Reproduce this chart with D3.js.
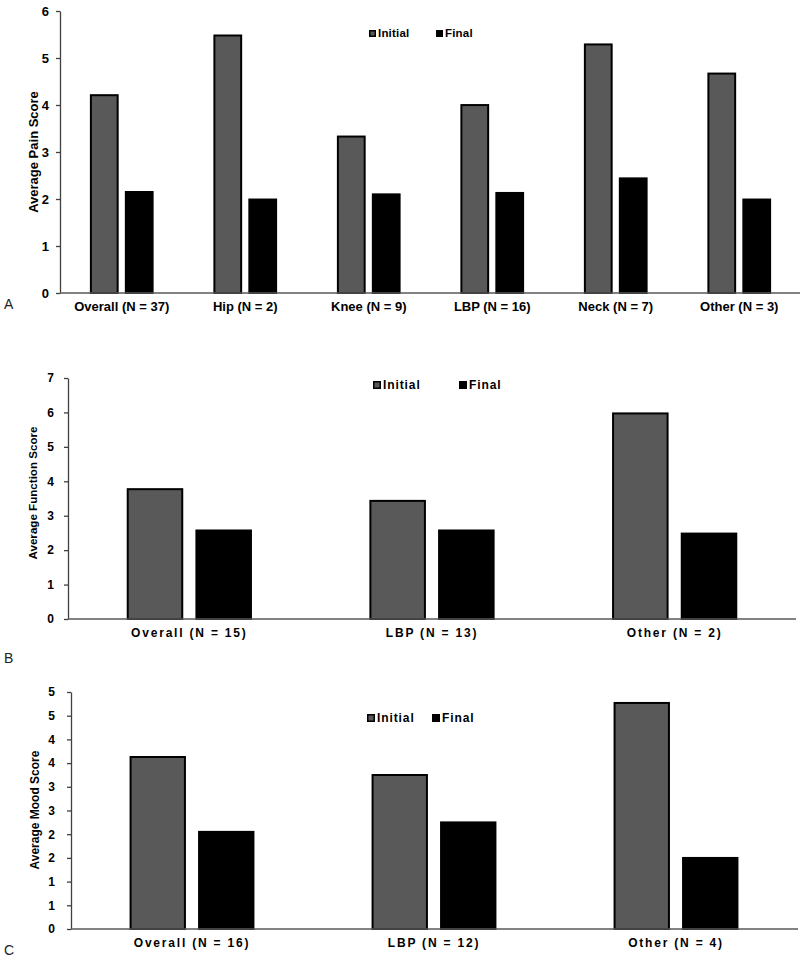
<!DOCTYPE html>
<html>
<head>
<meta charset="utf-8">
<script src="https://cdn.jsdelivr.net/npm/d3@7"></script>
<style>
  html, body { margin: 0; padding: 0; background: #fff; }
  svg { display: block; font-family: "Liberation Sans", Arial, sans-serif; }
</style>
</head>
<body>
<svg id="chart" width="800" height="969"></svg>
<script>
// ---------- DATA ----------
const series = ["Initial", "Final"];
const seriesColors = ["#595959", "#000000"];

const painCategories = ["Overall (N = 37)", "Hip (N = 2)", "Knee (N = 9)", "LBP (N = 16)", "Neck (N = 7)", "Other (N = 3)"];
const painInitial = [4.23, 5.50, 3.35, 4.02, 5.31, 4.69];
const painFinal   = [2.17, 2.01, 2.12, 2.15, 2.46, 2.01];
const painTicks = [0, 1, 2, 3, 4, 5, 6];
const painTickLabels = ["0", "1", "2", "3", "4", "5", "6"];

const funcCategories = ["Overall (N = 15)", "LBP (N = 13)", "Other (N = 2)"];
const funcInitial = [3.80, 3.46, 6.00];
const funcFinal   = [2.60, 2.60, 2.51];
const funcTicks = [0, 1, 2, 3, 4, 5, 6, 7];
const funcTickLabels = ["0", "1", "2", "3", "4", "5", "6", "7"];

const moodCategories = ["Overall (N = 16)", "LBP (N = 12)", "Other (N = 4)"];
const moodInitial = [3.65, 3.27, 4.79];
const moodFinal   = [2.07, 2.27, 1.52];
const moodTicks = [0, 0.5, 1, 1.5, 2, 2.5, 3, 3.5, 4, 4.5, 5];
const moodTickLabels = ["0", "1", "1", "2", "2", "3", "3", "4", "4", "5", "5"];

// ---------- DRAW ----------
const svg = d3.select("#chart");

function drawPanel(p) {
  const g = svg.append("g");
  const x = d3.scaleBand().domain(p.categories).range([p.left, p.right]).padding(0);
  const bw = x.bandwidth();
  const xs = d3.scaleBand().domain(series)
    .range([bw * 0.242, bw * 0.758]).paddingInner(0.177).paddingOuter(0);
  const y = d3.scaleLinear().domain([0, p.max]).range([p.bottom, p.top]);

  const rows = p.categories.map((c, i) => ({ c, vals: [p.initial[i], p.final[i]] }));

  // bars
  const grp = g.selectAll("g.cat").data(rows).enter().append("g")
    .attr("transform", d => `translate(${x(d.c)},0)`);
  grp.selectAll("rect").data(d => d.vals.map((v, k) => ({ s: series[k], v, k })))
    .enter().append("rect")
    .attr("x", d => xs(d.s) + 1)
    .attr("width", xs.bandwidth() - 2)
    .attr("y", d => y(d.v) + 1)
    .attr("height", d => y(0) - y(d.v) - 1)
    .attr("fill", d => seriesColors[d.k])
    .attr("stroke", "#000")
    .attr("stroke-width", 2);

  // y axis
  const yAxis = d3.axisLeft(y).tickValues(p.ticks)
    .tickFormat((d, i) => p.tickLabels[i])
    .tickSize(4).tickSizeOuter(0).tickPadding(p.tickPad);
  const ya = g.append("g").attr("transform", `translate(${p.left},0)`).call(yAxis);
  ya.select(".domain").attr("stroke", "#404040").attr("stroke-width", 1.3);
  ya.selectAll(".tick line").attr("stroke", "#404040").attr("stroke-width", 1.3);
  ya.selectAll(".tick text").attr("font-size", p.tickFont).attr("font-weight", "bold")
    .attr("font-family", "Liberation Sans, Arial, sans-serif").attr("fill", "#000");

  // x axis baseline
  g.append("line").attr("x1", p.left).attr("x2", p.axisEnd)
    .attr("y1", y(0)).attr("y2", y(0))
    .attr("stroke", "#595959").attr("stroke-width", 1.5);

  // x labels
  const xAxis = d3.axisBottom(x).tickSize(0).tickPadding(p.xPad);
  const xa = g.append("g").attr("transform", `translate(0,${y(0)})`).call(xAxis);
  xa.select(".domain").remove();
  xa.selectAll(".tick text").attr("font-size", p.xFont).attr("font-weight", "bold")
    .attr("font-family", "Liberation Sans, Arial, sans-serif").attr("fill", "#000")
    .style("letter-spacing", p.xSpacing + "px");

  // y title
  g.append("text")
    .attr("transform", `translate(${p.titleX},${p.titleY}) rotate(-90)`)
    .attr("text-anchor", "middle").attr("dominant-baseline", "central")
    .attr("font-size", p.titleFont).attr("font-weight", "bold")
    .text(p.title);

  // legend
  const lg = g.append("g");
  series.forEach((s, k) => {
    lg.append("rect")
      .attr("x", p.legendX[k] + 0.75).attr("y", p.legendY - p.sq + 0.75)
      .attr("width", p.sq - 1.5).attr("height", p.sq - 1.5)
      .attr("fill", seriesColors[k]).attr("stroke", "#000").attr("stroke-width", 1.5);
    lg.append("text")
      .attr("x", p.legendX[k] + p.sq + 2).attr("y", p.legendY)
      .attr("font-size", p.legendFont).attr("font-weight", "bold")
      .style("letter-spacing", p.legendSpacing + "px")
      .text(s);
  });

  // panel letter
  g.append("text").attr("x", 4).attr("y", p.letterY)
    .attr("font-size", 14).attr("fill", "#222").text(p.letter);
}

drawPanel({
  categories: painCategories, initial: painInitial, final: painFinal,
  ticks: painTicks, tickLabels: painTickLabels, max: 6,
  left: 60, right: 801, axisEnd: 800, top: 11, bottom: 293,
  tickPad: 7, tickFont: 13, xPad: 9, xFont: 13, xSpacing: 0,
  title: "Average Pain Score", titleX: 33, titleY: 152, titleFont: 13,
  legendX: [369, 436], legendY: 37, sq: 7, legendFont: 11.5, legendSpacing: 0.2,
  letter: "A", letterY: 309
});

drawPanel({
  categories: funcCategories, initial: funcInitial, final: funcFinal,
  ticks: funcTicks, tickLabels: funcTickLabels, max: 7,
  left: 68, right: 796, axisEnd: 796, top: 378, bottom: 619,
  tickPad: 10, tickFont: 12, xPad: 9, xFont: 12, xSpacing: 1.8,
  title: "Average Function Score", titleX: 32, titleY: 493, titleFont: 11.6,
  legendX: [373, 459], legendY: 389, sq: 8, legendFont: 12, legendSpacing: 0.9,
  letter: "B", letterY: 663
});

drawPanel({
  categories: moodCategories, initial: moodInitial, final: moodFinal,
  ticks: moodTicks, tickLabels: moodTickLabels, max: 5,
  left: 71, right: 797, axisEnd: 798, top: 692, bottom: 929,
  tickPad: 12, tickFont: 12, xPad: 9, xFont: 12, xSpacing: 1.8,
  title: "Average Mood Score", titleX: 35, titleY: 810, titleFont: 12,
  legendX: [367, 432], legendY: 722, sq: 8, legendFont: 12, legendSpacing: 0.9,
  letter: "C", letterY: 955
});
</script>
</body>
</html>
